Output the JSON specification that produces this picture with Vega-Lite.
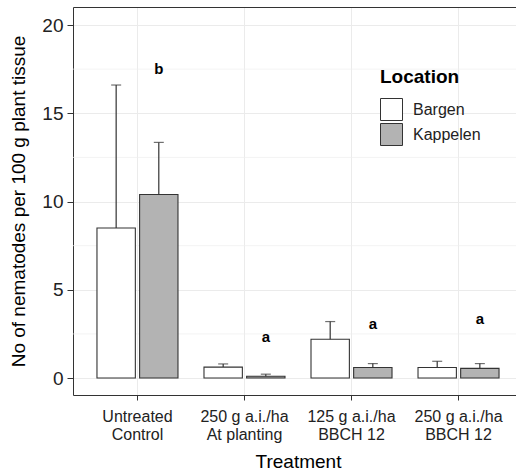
{
  "$schema": "https://vega.github.io/schema/vega-lite/v6.json",
  "width": 443,
  "height": 388,
  "autosize": "none",
  "padding": {"left": 73, "top": 7, "right": 0, "bottom": 80},
  "background": "white",
  "config": {
    "view": {"stroke": null},
    "font": "Liberation Sans",
    "legend": {
      "orient": "none",
      "legendX": 307,
      "legendY": 61,
      "titleFontSize": 19,
      "titleFontWeight": "bold",
      "titleColor": "#000000",
      "titlePadding": 11,
      "labelFontSize": 16,
      "labelColor": "#222222",
      "labelOffset": 10,
      "symbolType": "square",
      "symbolSize": 484,
      "symbolStrokeColor": "#333333",
      "symbolStrokeWidth": 1,
      "rowPadding": -6
    }
  },
  "data": {
    "values": [
      {"Treatment": "Untreated|Control", "Location": "Bargen", "mean": 8.5, "upper": 16.6},
      {"Treatment": "Untreated|Control", "Location": "Kappelen", "mean": 10.4, "upper": 13.35, "letter": "b", "sig_y": 17.5},
      {"Treatment": "250 g a.i./ha|At planting", "Location": "Bargen", "mean": 0.62, "upper": 0.8},
      {"Treatment": "250 g a.i./ha|At planting", "Location": "Kappelen", "mean": 0.1, "upper": 0.22, "letter": "a", "sig_y": 2.3},
      {"Treatment": "125 g a.i./ha|BBCH 12", "Location": "Bargen", "mean": 2.2, "upper": 3.2},
      {"Treatment": "125 g a.i./ha|BBCH 12", "Location": "Kappelen", "mean": 0.6, "upper": 0.82, "letter": "a", "sig_y": 3.05},
      {"Treatment": "250 g a.i./ha|BBCH 12", "Location": "Bargen", "mean": 0.6, "upper": 0.95},
      {"Treatment": "250 g a.i./ha|BBCH 12", "Location": "Kappelen", "mean": 0.55, "upper": 0.82, "letter": "a", "sig_y": 3.35}
    ]
  },
  "resolve": {"axis": {"x": "independent"}},
  "layer": [
    {
      "data": {"values": [{"v": 2.5}, {"v": 7.5}, {"v": 12.5}, {"v": 17.5}]},
      "mark": {"type": "rule", "color": "#eeeeee", "strokeWidth": 0.7},
      "encoding": {
        "y": {"field": "v", "type": "quantitative", "title": "No of nematodes per 100 g plant tissue"}
      }
    },
    {
      "mark": {"type": "bar", "stroke": "#333333", "strokeWidth": 1.1},
      "encoding": {
        "x": {
          "field": "Treatment",
          "type": "nominal",
          "sort": null,
          "scale": {"range": [0, 450], "paddingInner": 0.243, "paddingOuter": 0.224},
          "axis": {
            "orient": "bottom",
            "bandPosition": 0.5,
            "grid": true,
            "gridColor": "#ebebeb",
            "domainColor": "#333333",
            "tickColor": "#333333",
            "tickSize": 5,
            "labelAngle": 0,
            "labelFontSize": 16,
            "labelColor": "#222222",
            "labelLineHeight": 18,
            "labelPadding": 8,
            "labelExpr": "split(datum.label, '|')",
            "title": "Treatment",
            "titleFontSize": 19,
            "titleFontWeight": "normal",
            "titleColor": "#000000",
            "titlePadding": 10
          }
        },
        "xOffset": {
          "field": "Location",
          "type": "nominal",
          "scale": {"paddingInner": 0.1, "paddingOuter": 0}
        },
        "y": {
          "field": "mean",
          "type": "quantitative",
          "title": "No of nematodes per 100 g plant tissue",
          "scale": {"domain": [-0.96, 21.02], "nice": false, "zero": false},
          "axis": {
            "values": [0, 5, 10, 15, 20],
            "grid": true,
            "gridColor": "#ebebeb",
            "domainColor": "#333333",
            "tickColor": "#333333",
            "tickSize": 6,
            "labelFontSize": 19,
            "labelColor": "#222222",
            "labelPadding": 4,
            "titleFontSize": 19,
            "titleFontWeight": "normal",
            "titleColor": "#000000",
            "titlePadding": 13
          }
        },
        "fill": {
          "field": "Location",
          "type": "nominal",
          "scale": {"domain": ["Bargen", "Kappelen"], "range": ["#ffffff", "#b3b3b3"]},
          "legend": {"title": "Location"}
        }
      }
    },
    {
      "mark": {"type": "rule", "color": "#333333", "strokeWidth": 1.2},
      "encoding": {
        "x": {"field": "Treatment", "type": "nominal", "sort": null, "axis": null},
        "xOffset": {"field": "Location", "type": "nominal"},
        "y": {"field": "mean", "type": "quantitative", "title": "No of nematodes per 100 g plant tissue"},
        "y2": {"field": "upper"}
      }
    },
    {
      "mark": {"type": "tick", "orient": "horizontal", "size": 10, "thickness": 1.2, "color": "#333333"},
      "encoding": {
        "x": {"field": "Treatment", "type": "nominal", "sort": null, "axis": null},
        "xOffset": {"field": "Location", "type": "nominal"},
        "y": {"field": "upper", "type": "quantitative", "title": "No of nematodes per 100 g plant tissue"}
      }
    },
    {
      "transform": [{"filter": "datum.letter != null"}],
      "mark": {"type": "text", "fontSize": 15, "fontWeight": "bold", "color": "#000000", "baseline": "middle"},
      "encoding": {
        "x": {
          "field": "Treatment",
          "type": "nominal",
          "sort": null,
          "axis": {"orient": "top", "domain": true, "domainColor": "#333333", "ticks": false, "labels": false, "grid": false, "title": null}
        },
        "xOffset": {"field": "Location", "type": "nominal"},
        "y": {"field": "sig_y", "type": "quantitative", "title": "No of nematodes per 100 g plant tissue"},
        "text": {"field": "letter"}
      }
    }
  ]
}
